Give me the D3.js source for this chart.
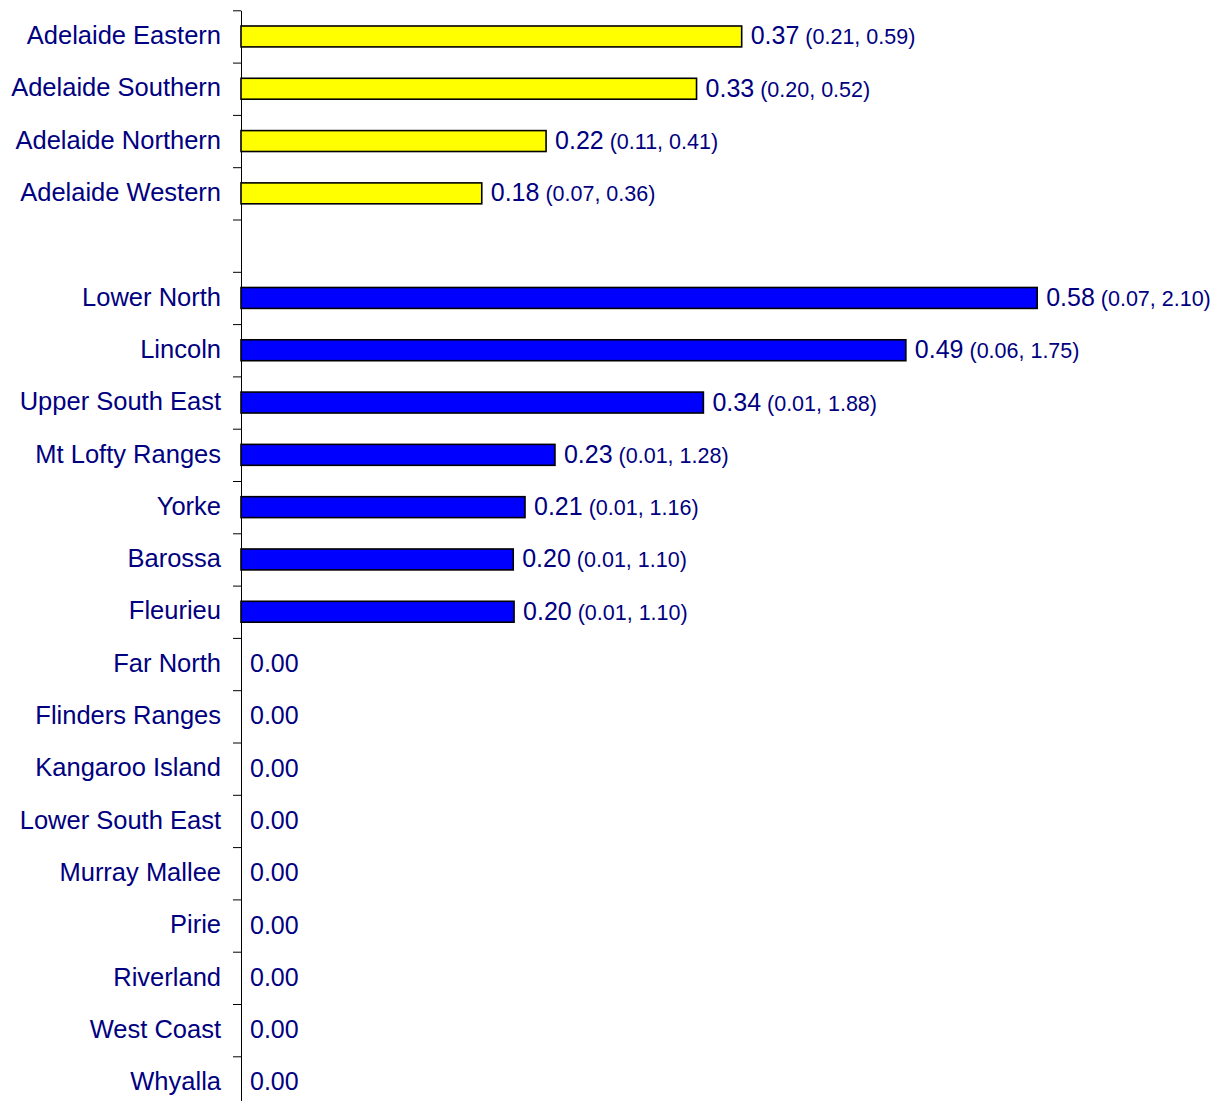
<!DOCTYPE html>
<html>
<head>
<meta charset="utf-8">
<script src="https://cdn.jsdelivr.net/npm/d3@7"></script>
<style>
  body { margin: 0; background: #fff; }
  svg text { font-family: "Liberation Sans", Arial, sans-serif; fill: #000080; }
</style>
</head>
<body>
<div id="chart-area"></div>
<script>
// regions, top to bottom ("" is the empty gap row)
const categories = [
  "Adelaide Eastern", "Adelaide Southern", "Adelaide Northern", "Adelaide Western", "",
  "Lower North", "Lincoln", "Upper South East", "Mt Lofty Ranges", "Yorke", "Barossa",
  "Fleurieu", "Far North", "Flinders Ranges", "Kangaroo Island", "Lower South East",
  "Murray Mallee", "Pirie", "Riverland", "West Coast", "Whyalla"
]
const values = [0.366, 0.333, 0.223, 0.176, null,
  0.582, 0.486, 0.338, 0.2295, 0.2076, 0.199, 0.1996,
  0, 0, 0, 0, 0, 0, 0, 0, 0]
const ciLow = [0.21, 0.20, 0.11, 0.07, null, 0.07, 0.06, 0.01, 0.01, 0.01, 0.01, 0.01,
  null, null, null, null, null, null, null, null, null]
const ciHigh = [0.59, 0.52, 0.41, 0.36, null, 2.10, 1.75, 1.88, 1.28, 1.16, 1.10, 1.10,
  null, null, null, null, null, null, null, null, null]
const groups = ["metro", "metro", "metro", "metro", null,
  "country", "country", "country", "country", "country", "country", "country",
  "country", "country", "country", "country", "country", "country", "country", "country", "country"]

const WIDTH = 1226
const HEIGHT = 1101
const AXIS_X = 241
const TOP = 10.3
const STEP = 52.3

const svg = d3.select("#chart-area").append("svg")
  .attr("width", WIDTH)
  .attr("height", HEIGHT)

const idx = d3.range(categories.length)

const x = d3.scaleLinear()
  .domain([0, 0.7])
  .range([AXIS_X, AXIS_X + 0.7 * 1368])

const y = d3.scaleBand()
  .domain(idx)
  .range([TOP, TOP + categories.length * STEP])
  .paddingInner(0.6)
  .paddingOuter(0.3)

// boundary ticks between rows
const yb = d3.scaleLinear()
  .domain([0, categories.length])
  .range([TOP, TOP + categories.length * STEP])

svg.append("g")
  .attr("transform", `translate(${AXIS_X},0)`)
  .call(d3.axisLeft(yb).tickValues(d3.range(categories.length + 1)).tickSizeInner(8).tickSizeOuter(0).tickFormat(""))
  .call(g => g.selectAll("path, line").attr("stroke", "#000").attr("stroke-width", 1))

// category labels
svg.append("g")
  .attr("transform", `translate(${AXIS_X},0)`)
  .call(d3.axisLeft(y).tickSize(0).tickPadding(20).tickFormat(i => categories[i]))
  .call(g => g.select(".domain").remove())
  .selectAll("text")
    .attr("font-size", "25.5px")
    .attr("font-family", null)
    .attr("dy", "0.3em")

const rows = idx.filter(i => values[i] !== null)

svg.selectAll("rect.bar")
  .data(rows.filter(i => values[i] > 0))
  .enter().append("rect")
  .attr("class", "bar")
  .attr("x", x(0))
  .attr("y", i => y(i))
  .attr("width", i => x(values[i]) - x(0))
  .attr("height", y.bandwidth())
  .attr("fill", i => groups[i] === "metro" ? "#ffff00" : "#0000ff")
  .attr("stroke", "#000")
  .attr("stroke-width", 1.6)

const fmt = d3.format(".2f")

const labels = svg.selectAll("text.val")
  .data(rows)
  .enter().append("text")
  .attr("class", "val")
  .attr("x", i => x(values[i]) + 9)
  .attr("y", i => y(i) + y.bandwidth() / 2 + 8)
  .attr("font-size", "25px")

labels.append("tspan").text(i => fmt(values[i]))
labels.filter(i => ciLow[i] !== null)
  .append("tspan")
  .attr("font-size", "21.5px")
  .text(i => ` (${fmt(ciLow[i])}, ${fmt(ciHigh[i])})`)
</script>
</body>
</html>
